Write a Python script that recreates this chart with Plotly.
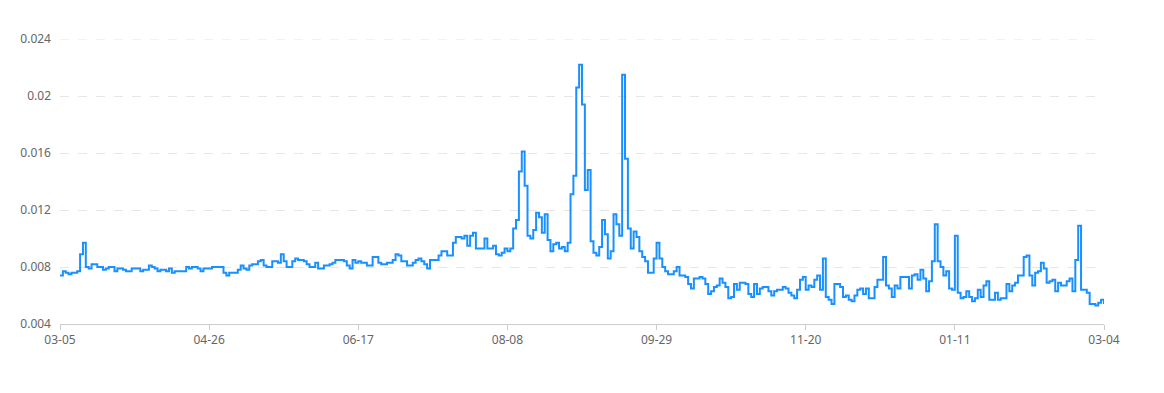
import datetime as dt
import plotly.graph_objects as go

start_date = "2022-03-05"
values = [
    # 03-05 .. (days 0-44)
    0.0074, 0.0077, 0.0076, 0.0075, 0.0076, 0.0076, 0.0077, 0.0089, 0.0097, 0.0080,
    0.0079, 0.0082, 0.0082, 0.0080, 0.0080, 0.0078, 0.0079, 0.0080, 0.0080, 0.0077,
    0.0079, 0.0079, 0.0078, 0.0077, 0.0077, 0.0079, 0.0079, 0.0079, 0.0077, 0.0078,
    0.0078, 0.0081, 0.0080, 0.0079, 0.0077, 0.0078, 0.0078, 0.0077, 0.0079, 0.0076,
    0.0077, 0.0077, 0.0077, 0.0077, 0.0080,
    # days 45-90
    0.0079, 0.0080, 0.0080, 0.0079, 0.0077, 0.0079, 0.0079, 0.0079, 0.0080, 0.0080,
    0.0080, 0.0080, 0.0076, 0.0074, 0.0076, 0.0076, 0.0076, 0.0078, 0.0081, 0.0079,
    0.0078, 0.0081, 0.0082, 0.0082, 0.0084, 0.0085, 0.0081, 0.0080, 0.0080, 0.0084,
    0.0084, 0.0083, 0.0089, 0.0084, 0.0080, 0.0080, 0.0084, 0.0086, 0.0085, 0.0085,
    0.0084, 0.0082, 0.0080, 0.0080, 0.0083, 0.0079,
    # days 91-135
    0.0079, 0.0081, 0.0081, 0.0082, 0.0083, 0.0085, 0.0085, 0.0085, 0.0084, 0.0081,
    0.0079, 0.0085, 0.0083, 0.0084, 0.0083, 0.0083, 0.0081, 0.0081, 0.0087, 0.0087,
    0.0083, 0.0082, 0.0082, 0.0083, 0.0083, 0.0085, 0.0089, 0.0088, 0.0084, 0.0084,
    0.0081, 0.0081, 0.0083, 0.0085, 0.0086, 0.0084, 0.0082, 0.0079, 0.0085, 0.0085,
    0.0085, 0.0088, 0.0091, 0.0091, 0.0088,
    # days 136-179
    0.0088, 0.0097, 0.0101, 0.0101, 0.0100, 0.0102, 0.0095, 0.0102, 0.0104, 0.0093,
    0.0093, 0.0093, 0.0100, 0.0093, 0.0093, 0.0095, 0.0089, 0.0088, 0.0090, 0.0093,
    0.0091, 0.0093, 0.0107, 0.0113, 0.0147, 0.0161, 0.0137, 0.0102, 0.0100, 0.0106,
    0.0118, 0.0115, 0.0104, 0.0117, 0.0099, 0.0091, 0.0096, 0.0097, 0.0093, 0.0094,
    0.0091, 0.0097, 0.0131, 0.0144,
    # days 180-204
    0.0206, 0.0222, 0.0194, 0.0134, 0.0148, 0.0098, 0.0090, 0.0088, 0.0094, 0.0113,
    0.0103, 0.0086, 0.0091, 0.0117, 0.0110, 0.0102, 0.0215, 0.0156, 0.0107, 0.0093,
    0.0105, 0.0101, 0.0091, 0.0087, 0.0084,
    # days 205-254
    0.0076, 0.0076, 0.0086, 0.0097, 0.0086, 0.0080, 0.0077, 0.0075, 0.0075, 0.0077,
    0.0080, 0.0074, 0.0074, 0.0073, 0.0068, 0.0065, 0.0072, 0.0072, 0.0073, 0.0072,
    0.0068, 0.0061, 0.0063, 0.0066, 0.0067, 0.0072, 0.0069, 0.0066, 0.0058, 0.0059,
    0.0068, 0.0064, 0.0069, 0.0069, 0.0068, 0.0061, 0.0059, 0.0068, 0.0061, 0.0065,
    0.0066, 0.0066, 0.0063, 0.0060, 0.0063, 0.0064, 0.0064, 0.0066, 0.0065, 0.0062,
    # days 255-309
    0.0060, 0.0058, 0.0064, 0.0071, 0.0073, 0.0064, 0.0067, 0.0066, 0.0071, 0.0074,
    0.0064, 0.0086, 0.0059, 0.0057, 0.0054, 0.0068, 0.0068, 0.0066, 0.0059, 0.0060,
    0.0057, 0.0056, 0.0060, 0.0064, 0.0065, 0.0061, 0.0065, 0.0058, 0.0058, 0.0066,
    0.0071, 0.0071, 0.0087, 0.0067, 0.0065, 0.0059, 0.0067, 0.0065, 0.0073, 0.0073,
    0.0073, 0.0065, 0.0074, 0.0075, 0.0071, 0.0078, 0.0072, 0.0063, 0.0070, 0.0084,
    0.0110, 0.0084, 0.0080, 0.0074, 0.0077,
    # days 310-364
    0.0065, 0.0064, 0.0102, 0.0062, 0.0058, 0.0059, 0.0063, 0.0059, 0.0056, 0.0058,
    0.0064, 0.0059, 0.0067, 0.0070, 0.0057, 0.0057, 0.0062, 0.0057, 0.0058, 0.0058,
    0.0068, 0.0063, 0.0067, 0.0069, 0.0074, 0.0074, 0.0087, 0.0088, 0.0074, 0.0067,
    0.0076, 0.0077, 0.0083, 0.0079, 0.0069, 0.0070, 0.0071, 0.0063, 0.0069, 0.0067,
    0.0067, 0.0070, 0.0072, 0.0063, 0.0085, 0.0109, 0.0064, 0.0064, 0.0062, 0.0054,
    0.0054, 0.0053, 0.0055, 0.0057, 0.0054,
]

tick_dates = ["2022-03-05", "2022-04-26", "2022-06-17", "2022-08-08",
              "2022-09-29", "2022-11-20", "2023-01-11", "2023-03-04"]
tick_labels = ["03-05", "04-26", "06-17", "08-08", "09-29", "11-20", "01-11", "03-04"]
y_ticks = [0.004, 0.008, 0.012, 0.016, 0.02, 0.024]
y_labels = ["0.004", "0.008", "0.012", "0.016", "0.02", "0.024"]

d0 = dt.date.fromisoformat(start_date)
dates = [d0 + dt.timedelta(days=i) for i in range(len(values))]

fig = go.Figure()
fig.add_trace(go.Scatter(
    x=dates, y=values, mode="lines", line_shape="hv",
    line=dict(color="#1890ff", width=2),
    hoverinfo="x+y", showlegend=False,
))

# top grid line (plotly omits the grid line lying on the plot edge)
fig.add_shape(type="line", xref="paper", yref="y", x0=0, x1=1,
              y0=y_ticks[-1], y1=y_ticks[-1],
              line=dict(color="#e6e6e6", width=1, dash="dash"), layer="below")

fig.update_layout(
    width=1164, height=393,
    margin=dict(l=60, r=60, t=39, b=69),
    paper_bgcolor="white", plot_bgcolor="white",
    font=dict(family="Noto Sans, Open Sans, sans-serif", size=12, color="#666"),
    xaxis=dict(
        type="date",
        range=[dates[0], dates[-1]],
        tickvals=tick_dates, ticktext=tick_labels,
        showgrid=False, zeroline=False,
        showline=True, linecolor="#cccccc", linewidth=1,
        ticks="outside", ticklen=5, tickcolor="#cccccc",
        tickfont=dict(size=12, color="#666"),
    ),
    yaxis=dict(
        range=[0.004, 0.024],
        tickvals=y_ticks, ticktext=y_labels,
        showgrid=True, gridcolor="#e6e6e6", griddash="dash", gridwidth=1,
        zeroline=False, showline=False, ticks="",
        ticklabelstandoff=8,
        tickfont=dict(size=12, color="#666"),
    ),
)

fig.write_html("out.html")
